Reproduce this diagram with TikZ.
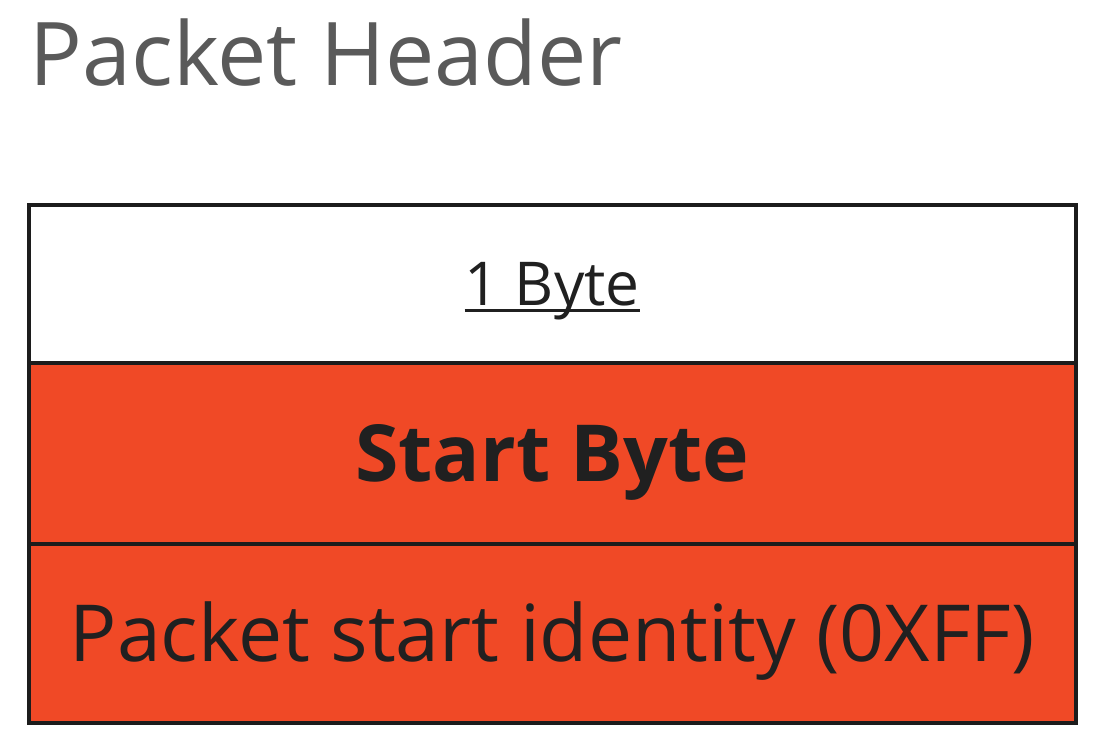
\documentclass[tikz,border=0pt]{standalone}
\usepackage{fontspec}
\setmainfont{Open Sans}
\usetikzlibrary{matrix,positioning}
\definecolor{startred}{HTML}{F04926}
\definecolor{framegray}{HTML}{1C1C1C}
\definecolor{titlegray}{HTML}{5A5A5A}
\definecolor{celltext}{HTML}{202020}
\newcommand{\ulbox}[1]{\setbox0\hbox{#1}\rlap{\rule[-1.8pt]{\wd0}{0.85pt}}#1}
\tikzset{
	cell/.style={draw=framegray,line width=1pt,minimum width=10.47cm,text=celltext,inner sep=0pt,outer sep=0pt,text depth=0pt},
	sizecell/.style={cell,fill=white,minimum height=1.58cm,text height=12.2pt,font=\fontsize{17.2}{20}\selectfont},
	namecell/.style={cell,fill=startred,minimum height=1.81cm,text height=16pt,font=\fontsize{22.4}{26}\selectfont\bfseries},
	infocell/.style={cell,fill=startred,minimum height=1.79cm,text height=16pt,font=\fontsize{22.4}{27}\selectfont}
}

\begin{document}
\begin{tikzpicture}
	\useasboundingbox (0,0) rectangle (11,-7.45);
	\node (title) [anchor=base west,inner sep=0pt,text=titlegray,font=\fontsize{25}{30}\selectfont] at (0.29,-0.86) {Packet Header};
	\matrix (m) [matrix of nodes,row sep=-1pt,anchor=north west,inner sep=0pt,outer sep=0pt] at (0.27,-2.03)
	{
		|[sizecell]| \ulbox{1 Byte} \\
		|[namecell]| Start Byte \\
		|[infocell]| Packet start identity (0XFF) \\
	};
\end{tikzpicture}
\end{document}
